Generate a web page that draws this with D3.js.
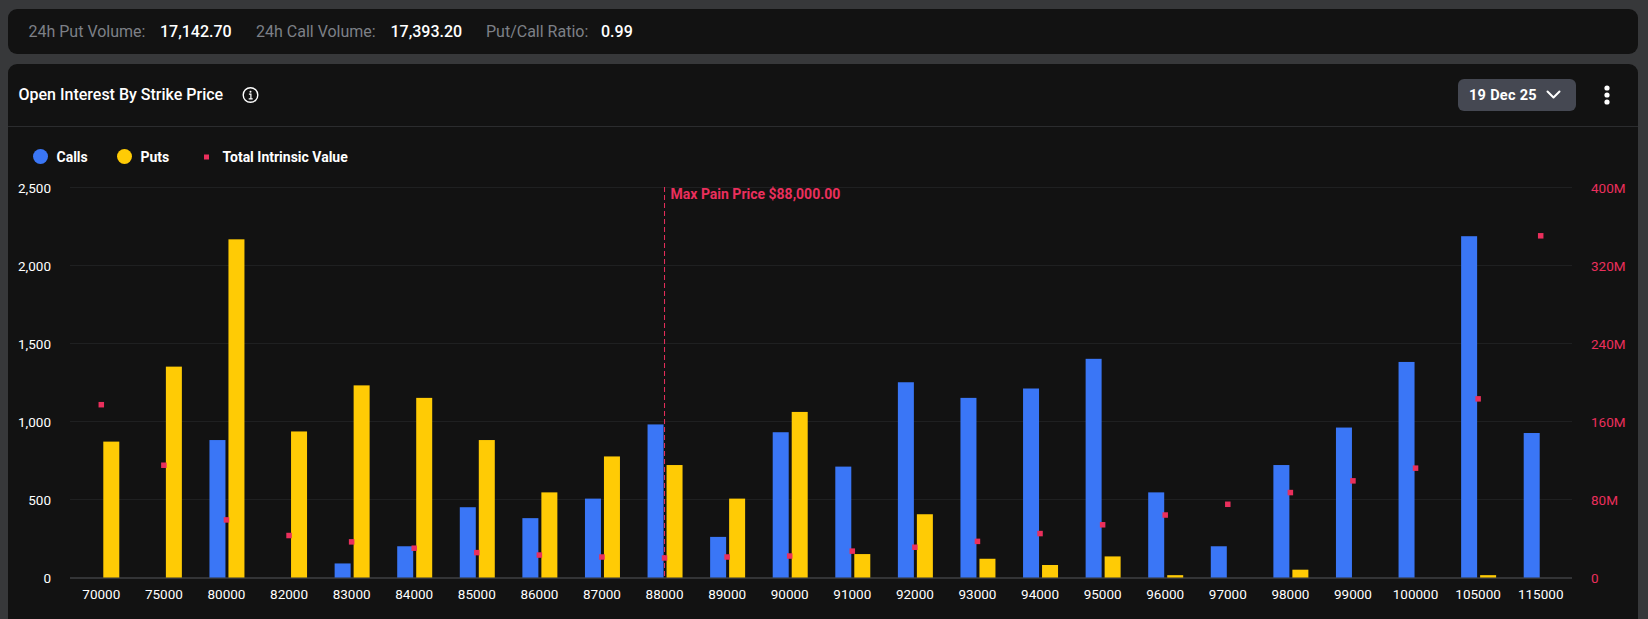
<!DOCTYPE html>
<html>
<head>
<meta charset="utf-8">
<title>Open Interest By Strike Price</title>
<script src="https://cdn.jsdelivr.net/npm/d3@7"></script>
<style>
  html, body { margin: 0; padding: 0; background: #37383a; overflow: hidden; }
  svg { display: block; font-family: Roboto, sans-serif; }
</style>
</head>
<body>
<svg id="chart" width="1648" height="619"></svg>
<script>
// Strike prices and open interest per strike
const strikes = ["70000","75000","80000","82000","83000","84000","85000","86000","87000","88000","89000","90000","91000","92000","93000","94000","95000","96000","97000","98000","99000","100000","105000","115000"];
const calls = [0,0,880,0,90,200,450,380,505,980,260,930,710,1250,1150,1210,1400,545,200,720,960,1380,2185,925];
const puts = [870,1350,2165,935,1230,1150,880,545,775,720,505,1060,150,405,120,80,135,15,0,50,0,0,15,0];
// Total intrinsic value per strike, in millions of USD
const intrinsic = [177,115,59,43,36.5,30,25.5,23,21,20,21,22,27,31,37,45,54,64,75,87,99,112,183,350];

const volumeTicks = [0,500,1000,1500,2000,2500];
const valueTicks = [0,80,160,240,320,400];
const maxPainStrike = "88000";
const maxPainLabel = "Max Pain Price $88,000.00";
const summary = [
  ["24h Put Volume:", "17,142.70"],
  ["24h Call Volume:", "17,393.20"],
  ["Put/Call Ratio:", "0.99"]
];

const CALL_COLOR = "#3a76f6", PUT_COLOR = "#ffcb05", VALUE_COLOR = "#ea2f5c";
const plot = { left: 70, right: 1572, top: 187, bottom: 578 };
const barW = 16;

const svg = d3.select("#chart");

// Cards
svg.append("rect").attr("x", 8).attr("y", 9).attr("width", 1630).attr("height", 45).attr("rx", 9).attr("fill", "#121212");
svg.append("rect").attr("x", 8).attr("y", 64).attr("width", 1630).attr("height", 575).attr("rx", 9).attr("fill", "#121212");
svg.append("line").attr("x1", 8).attr("x2", 1638).attr("y1", 126.5).attr("y2", 126.5).attr("stroke", "#2b2c2e");

// Summary strip
const summaryX = [[28.5, 160], [256, 390.5], [486, 601]];
summary.forEach(([label, value], i) => {
  svg.append("text").attr("x", summaryX[i][0]).attr("y", 36.5).attr("font-size", 16).attr("fill", "#7d8087").text(label);
  svg.append("text").attr("x", summaryX[i][1]).attr("y", 36.5).attr("font-size", 16).attr("font-weight", 500).attr("fill", "#ffffff").text(value);
});

// Title row
svg.append("text").attr("x", 18.5).attr("y", 100).attr("font-size", 16).attr("font-weight", 500).attr("fill", "#ffffff").text("Open Interest By Strike Price");
const info = svg.append("g").attr("transform", "translate(250.5,95)");
info.append("circle").attr("r", 7.3).attr("fill", "none").attr("stroke", "#fff").attr("stroke-width", 1.4);
info.append("circle").attr("cy", -3.2).attr("r", 1).attr("fill", "#fff");
info.append("path").attr("d", "M-1.6,-0.8H0.4V3.6M-1.8,3.8H2.2").attr("fill", "none").attr("stroke", "#fff").attr("stroke-width", 1.2);

svg.append("rect").attr("x", 1458).attr("y", 79).attr("width", 118).attr("height", 32).attr("rx", 6).attr("fill", "#454852");
svg.append("text").attr("x", 1469).attr("y", 99.5).attr("font-size", 14.5).attr("font-weight", 700).attr("letter-spacing", 0.3).attr("fill", "#fff").text("19 Dec 25");
svg.append("path").attr("d", "M1547.5,91.5L1553.5,97.5L1559.5,91.5").attr("fill", "none").attr("stroke", "#fff").attr("stroke-width", 2).attr("stroke-linecap", "round").attr("stroke-linejoin", "round");
svg.selectAll("circle.menu").data([88, 95, 102]).join("circle").attr("class", "menu").attr("cx", 1607).attr("cy", d => d).attr("r", 2.6).attr("fill", "#fff");

// Legend
const legendText = (x, label) => svg.append("text").attr("x", x).attr("y", 161.5).attr("font-size", 14).attr("font-weight", 700).attr("fill", "#fff").text(label);
svg.append("circle").attr("cx", 40.5).attr("cy", 156.5).attr("r", 7.5).attr("fill", CALL_COLOR);
legendText(56.5, "Calls");
svg.append("circle").attr("cx", 124.5).attr("cy", 156.5).attr("r", 7.5).attr("fill", PUT_COLOR);
legendText(140.5, "Puts");
svg.append("rect").attr("x", 204).attr("y", 154.5).attr("width", 5).attr("height", 5).attr("fill", VALUE_COLOR);
legendText(222.5, "Total Intrinsic Value");

// Scales
const x = d3.scaleBand().domain(strikes).range([plot.left, plot.right]);
const yLeft = d3.scaleLinear().domain([0, 2500]).range([plot.bottom - 0.5, plot.top]);
const yRight = d3.scaleLinear().domain([0, 400]).range([plot.bottom - 0.5, plot.top]);
const cx = s => x(s) + x.bandwidth() / 2;

// Horizontal grid
svg.append("g").selectAll("line").data(volumeTicks.slice(1)).join("line")
  .attr("x1", plot.left).attr("x2", plot.right)
  .attr("y1", d => Math.round(yLeft(d)) + 0.5).attr("y2", d => Math.round(yLeft(d)) + 0.5)
  .attr("stroke", "#1f2021");

// Axes
const styleAxis = (g, color) => {
  g.select(".domain").remove();
  g.selectAll("text").attr("fill", color).attr("font-size", 13.5).attr("font-family", "Roboto, sans-serif");
};
svg.append("g").attr("transform", `translate(${plot.left},1)`)
  .call(d3.axisLeft(yLeft).tickValues(volumeTicks).tickSize(0).tickPadding(19))
  .call(styleAxis, "#ffffff");
svg.append("g").attr("transform", `translate(${plot.right},1)`)
  .call(d3.axisRight(yRight).tickValues(valueTicks).tickSize(0).tickPadding(19).tickFormat(d => d === 0 ? "0" : d + "M"))
  .call(styleAxis, VALUE_COLOR);
svg.append("g").attr("transform", `translate(0,${plot.bottom})`)
  .call(d3.axisBottom(x).tickSize(0).tickPadding(11))
  .call(styleAxis, "#ffffff");
svg.append("line").attr("x1", plot.left).attr("x2", plot.right).attr("y1", plot.bottom).attr("y2", plot.bottom).attr("stroke", "#333436").attr("stroke-width", 2);

// Bars
svg.append("g").selectAll("rect").data(strikes.filter((s, i) => calls[i] > 0)).join("rect")
  .attr("x", s => cx(s) - barW - 1)
  .attr("y", s => yLeft(calls[strikes.indexOf(s)]))
  .attr("width", barW)
  .attr("height", s => yLeft(0) - yLeft(calls[strikes.indexOf(s)]))
  .attr("fill", CALL_COLOR);
svg.append("g").selectAll("rect").data(strikes.filter((s, i) => puts[i] > 0)).join("rect")
  .attr("x", s => cx(s) + 2)
  .attr("y", s => yLeft(puts[strikes.indexOf(s)]))
  .attr("width", barW)
  .attr("height", s => yLeft(0) - yLeft(puts[strikes.indexOf(s)]))
  .attr("fill", PUT_COLOR);

// Max pain marker
svg.append("line").attr("x1", cx(maxPainStrike)).attr("x2", cx(maxPainStrike))
  .attr("y1", plot.top).attr("y2", plot.bottom)
  .attr("stroke", VALUE_COLOR).attr("stroke-width", 1).attr("stroke-dasharray", "5 3");
svg.append("text").attr("x", cx(maxPainStrike) + 6).attr("y", 198.5)
  .attr("font-size", 14).attr("font-weight", 700).attr("fill", VALUE_COLOR).text(maxPainLabel);

// Intrinsic value points
svg.append("g").selectAll("rect").data(strikes).join("rect")
  .attr("x", s => cx(s) - 2.75)
  .attr("y", (s, i) => yRight(intrinsic[i]) - 2.75)
  .attr("width", 5.5).attr("height", 5.5)
  .attr("fill", VALUE_COLOR);
</script>
</body>
</html>
